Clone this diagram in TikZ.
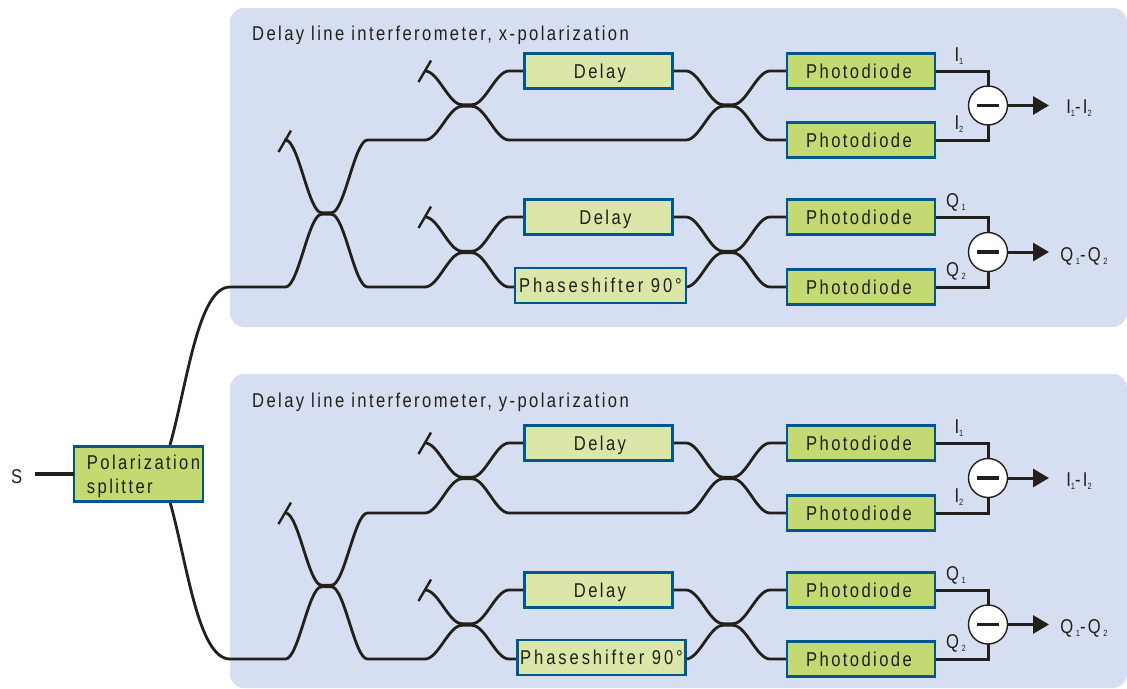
\documentclass[tikz,border=0pt]{standalone}
\usepackage{fontspec}
\usetikzlibrary{arrows.meta,calc}
\newfontfamily\labfont[FakeStretch=0.83,LetterSpace=12]{Liberation Sans}
\newfontfamily\shiftfont[FakeStretch=0.83,LetterSpace=14.5]{Liberation Sans}
\definecolor{panelc}{HTML}{D6DFF1}
\definecolor{boxedge}{HTML}{00578F}
\definecolor{lightgreen}{HTML}{DBE7A9}
\definecolor{darkgreen}{HTML}{C3DA72}
\definecolor{ink}{HTML}{231F1A}
\pgfdeclarelayer{backlayer}
\pgfdeclarelayer{fibrelayer}
\pgfsetlayers{backlayer,fibrelayer,main}
\tikzset{
  x=1pt,y=-1pt,
  panel/.style={fill=panelc,draw=none,rounded corners=14pt},
  labbase/.style={font=\labfont\fontsize{20}{24}\selectfont,text=ink,inner sep=0pt},
  lab/.style={labbase,text height=14pt,text depth=0pt},
  title/.style={lab,anchor=west},
  edgebox/.style={draw=boxedge,line width=2.4pt,outer sep=0pt},
  delaybox/.style={lab,edgebox,fill=lightgreen,minimum width=148pt,minimum height=35pt},
  shiftbox/.style={lab,edgebox,fill=lightgreen,minimum height=35pt,font=\shiftfont\fontsize{20}{24}\selectfont},
  diodebox/.style={lab,edgebox,fill=darkgreen,minimum width=148pt,minimum height=35pt},
  splitbox/.style={labbase,edgebox,fill=darkgreen,minimum width=129.5pt,minimum height=55pt,text width=129pt,align=left},
  diffnode/.style={circle,draw=ink,fill=white,line width=1.4pt,minimum size=39pt,inner sep=0pt,outer sep=0pt},
  fibre/.style={draw=ink,line width=2.8pt},
  wire/.style={draw=ink,line width=3pt},
  outarrow/.style={draw=ink,line width=3pt,-{Triangle[length=16pt,width=18pt]}},
  minusbar/.style={draw=ink,line width=3.4pt},
  stubline/.style={draw=ink,line width=2.4pt},
}
% cx cy halfwidth halfheight ; a (upper in) b (lower in) c (upper out) d (lower out)
\newcommand{\coupler}[8]{%
  \pgfmathsetmacro{\kk}{0.36*(#3-5)}
  \draw[fibre] (#5) -- ({#1-#3},{#2-#4})
     .. controls ({#1-#3+\kk},{#2-#4}) and ({#1-5-\kk},{#2-0.8}) .. ({#1-5},{#2-0.8})
     -- ({#1+5},{#2-0.8})
     .. controls ({#1+5+\kk},{#2-0.8}) and ({#1+#3-\kk},{#2-#4}) .. ({#1+#3},{#2-#4}) -- (#7);
  \draw[fibre] (#6) -- ({#1-#3},{#2+#4})
     .. controls ({#1-#3+\kk},{#2+#4}) and ({#1-5-\kk},{#2+0.8}) .. ({#1-5},{#2+0.8})
     -- ({#1+5},{#2+0.8})
     .. controls ({#1+5+\kk},{#2+0.8}) and ({#1+#3-\kk},{#2+#4}) .. ({#1+#3},{#2+#4}) -- (#8);
}
\newcommand{\stubbar}[1]{\draw[stubline] ($(#1)+(-6.5,11)$) -- ($(#1)+(6,-10.5)$);}
\newcommand{\lsub}[1]{\raisebox{-3pt}{\fontsize{9}{9}\selectfont #1}}
\newcommand{\qsub}[1]{\hspace{2.5pt}\raisebox{-3pt}{\fontsize{9}{9}\selectfont #1}}

% #1 prefix  #2 yI top #3 yI bottom #4 yQ top #5 yQ bottom #6 shifter cx #7 shifter width #8 second delay text shift
\newcommand{\interf}[8]{%
  \pgfmathsetmacro{\yIc}{(#2+#3)/2}
  \pgfmathsetmacro{\yQc}{(#4+#5)/2}
  \pgfmathsetmacro{\hhI}{(#3-#2)/2}
  \pgfmathsetmacro{\hhQ}{(#5-#4)/2}
  \node[delaybox] (#1d1) at (598.5,#2) {\hspace*{3pt}Delay};
  \node[delaybox] (#1d2) at (598.5,#4) {\hspace*{#8}Delay};
  \node[shiftbox,minimum width=#7] (#1ps) at (#6,{#5-1.5}) {Phaseshifter 90°};
  \node[diodebox] (#1p1) at (861,#2) {\hspace*{-4pt}Photodiode};
  \node[diodebox] (#1p2) at (861,#3) {\hspace*{-4pt}Photodiode};
  \node[diodebox] (#1p3) at (861,#4) {\hspace*{-4pt}Photodiode};
  \node[diodebox] (#1p4) at (861,#5) {\hspace*{-4pt}Photodiode};
  \node[diffnode] (#1m1) at (988,\yIc) {};
  \node[diffnode] (#1m2) at (988,\yQc) {};
  \draw[minusbar] ($(#1m1)+(-11,0)$) -- ($(#1m1)+(11,0)$);
  \draw[minusbar] ($(#1m2)+(-11,0)$) -- ($(#1m2)+(11,0)$);
  \coordinate (#1o1) at (1049,\yIc);
  \coordinate (#1o2) at (1049,\yQc);
  \draw[outarrow] (#1m1) -- (#1o1);
  \draw[outarrow] (#1m2) -- (#1o2);
  \coordinate (#1s1) at (425,#2);
  \coordinate (#1s2) at (425,#4);
  \stubbar{#1s1}\stubbar{#1s2}
  \coordinate (#1j1) at (425,#3);
  \coordinate (#1j2) at (425,#5);
  \coordinate (#1r1) at (673,#3);
  \begin{pgfonlayer}{fibrelayer}
    \coupler{467}{\yIc}{42}{\hhI}{#1s1}{#1j1}{#1d1.west}{#1r1}
    \coupler{467}{\yQc}{42}{\hhQ}{#1s2}{#1j2}{#1d2.west}{[yshift=-1.5pt]#1ps.west}
    \coupler{728}{\yIc}{42}{\hhI}{#1d1.east}{#1r1}{#1p1.west}{#1p2.west}
    \coupler{728}{\yQc}{42}{\hhQ}{#1d2.east}{[yshift=-1.5pt]#1ps.east}{#1p3.west}{#1p4.west}
    \draw[wire] (#1p1.east) -| (#1m1.north);
    \draw[wire] (#1p2.east) -| (#1m1.south);
    \draw[wire] (#1p3.east) -| (#1m2.north);
    \draw[wire] (#1p4.east) -| (#1m2.south);
  \end{pgfonlayer}
  \node[lab] (#1li1) at (959,{#2-17}) {I\lsub{1}};
  \node[lab] (#1li2) at (959,{#3-18}) {I\lsub{2}};
  \node[lab] (#1lq1) at (956,{#4-17}) {Q\qsub{1}};
  \node[lab] (#1lq2) at (956,{#5-18}) {Q\qsub{2}};
  \node[lab] (#1ld1) at (1079,{\yIc+1}) {I\lsub{1}-I\lsub{2}};
  \node[lab] (#1ld2) at (1084,{\yQc+2}) {Q\qsub{1}-Q\qsub{2}};
}
\begin{document}
\begin{tikzpicture}
\useasboundingbox (0,0) rectangle (1127,688);
\begin{pgfonlayer}{backlayer}
  \fill[panel] (230,8) rectangle (1127,327);
  \fill[panel] (230,374) rectangle (1127,688);
\end{pgfonlayer}
\node[title] (tx) at (252,33) {Delay line interferometer, x-polarization};
\node[title] (ty) at (252,400) {Delay line interferometer, y-polarization};

\node[lab,anchor=west,minimum width=33pt] (S) at (0,476) {S};
\node[splitbox] (ps0) at (138.5,474)
  {\rule{0pt}{19pt}\hspace*{13pt}Polarization\\\hspace*{13pt}splitter};
\draw[wire,line width=3.5pt] ([xshift=2pt]S.east |- ps0.west) -- (ps0.west);

\interf{a}{71}{140}{217}{287}{600.5}{171pt}{14pt}
\interf{b}{443}{513}{590}{659}{601.5}{168pt}{3pt}

% first stage couplers
\coordinate (sa) at (285,141);
\coordinate (sb) at (285,513);
\stubbar{sa}\stubbar{sb}
\coordinate (ua) at (170,445);
\coordinate (ub) at (170,502);
\coordinate (ea) at (230,287);
\coordinate (eb) at (230,659);
\begin{pgfonlayer}{fibrelayer}
  \draw[fibre] (ua) .. controls (187,385) and (198,287) .. (ea);
  \draw[fibre] (ub) .. controls (187,562) and (198,659) .. (eb);
  \coupler{326.5}{213.5}{41}{73.5}{sa}{ea}{aj1}{aj2}
  \coupler{326.5}{586}{41}{73}{sb}{eb}{bj1}{bj2}
\end{pgfonlayer}
\end{tikzpicture}
\end{document}
